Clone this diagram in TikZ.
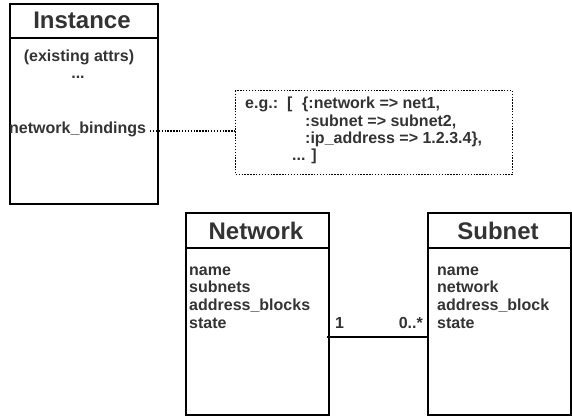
\documentclass[tikz,border=0pt]{standalone}
\usepackage{fontspec}
\setmainfont{Liberation Sans}
\definecolor{txt}{HTML}{333333}
\tikzset{
  classbox/.style={draw=black, line width=2pt, inner sep=0pt, anchor=north west},
  notebox/.style={draw=black, line width=1.4pt, dash pattern=on 1.4pt off 1.5pt, inner sep=0pt, anchor=north west},
  titletext/.style={font=\fontsize{24}{28}\selectfont\bfseries, text=txt, inner sep=0pt, anchor=base},
  attr/.style={font=\fontsize{16}{18}\selectfont\bfseries, text=txt, inner sep=0pt, anchor=base west},
  attrc/.style={attr, anchor=base},
  sepline/.style={line width=2pt},
  assoc/.style={line width=2pt},
  dotline/.style={line width=1.4pt, dash pattern=on 1.4pt off 1.5pt}
}
\begin{document}
\begin{tikzpicture}[x=1pt,y=-1pt]
\useasboundingbox (0,0) rectangle (572,416);

% Instance
\node[classbox, minimum width=148pt, minimum height=200pt] (inst) at (9,3) {};
\draw[sepline] ([yshift=-35pt]inst.north west) -- ([yshift=-35pt]inst.north east);
\node[titletext] (instT) at (82,28) {Instance};
\node[attrc] (instA1) at (79,61) {(existing attrs)};
\node[attrc] (instA2) at (78,78) {...};
\node[attr] (instA3) at (9,133) {network\_bindings};

% note
\node[notebox, minimum width=277pt, minimum height=84pt] (eg) at (235,90) {};
\node[attr] (eg1a) at (245,108) {e.g.:};
\node[attr] (eg1b) at (287,108) {[};
\node[attr] (eg1c) at (302,108) {\{:network => net1,};
\node[attr] (eg2) at (305,126) {:subnet => subnet2,};
\node[attr] (eg3) at (305,143) {:ip\_address => 1.2.3.4\},};
\node[attr] (eg4) at (292,160) {... ]};
\coordinate (nb) at (150,131);
\draw[dotline] (nb) -- (nb -| eg.west);

% Network
\node[classbox, minimum width=143pt, minimum height=202pt] (net) at (185,212) {};
\draw[sepline] ([yshift=-36pt]net.north west) -- ([yshift=-36pt]net.north east);
\node[titletext] (netT) at (256,239) {Network};
\node[attr] (netA1) at (189,275) {name};
\node[attr] (netA2) at (189,292.5) {subnets};
\node[attr] (netA3) at (189,310) {address\_blocks};
\node[attr] (netA4) at (189,328) {state};

% Subnet
\node[classbox, minimum width=143pt, minimum height=202pt] (sub) at (427,212) {};
\draw[sepline] ([yshift=-36pt]sub.north west) -- ([yshift=-36pt]sub.north east);
\node[titletext] (subT) at (498,239) {Subnet};
\node[attr] (subA1) at (437,275) {name};
\node[attr] (subA2) at (437,292.5) {network};
\node[attr] (subA3) at (437,310) {address\_block};
\node[attr] (subA4) at (437,328) {state};

% association
\draw[assoc] ([xshift=-3pt,yshift=-23pt]net.east) -- ([yshift=-23pt]sub.west);
\node[attr] (m1) at (335,328) {1};
\node[attr, anchor=base east] (m2) at (423,328) {0..*};
\end{tikzpicture}
\end{document}
